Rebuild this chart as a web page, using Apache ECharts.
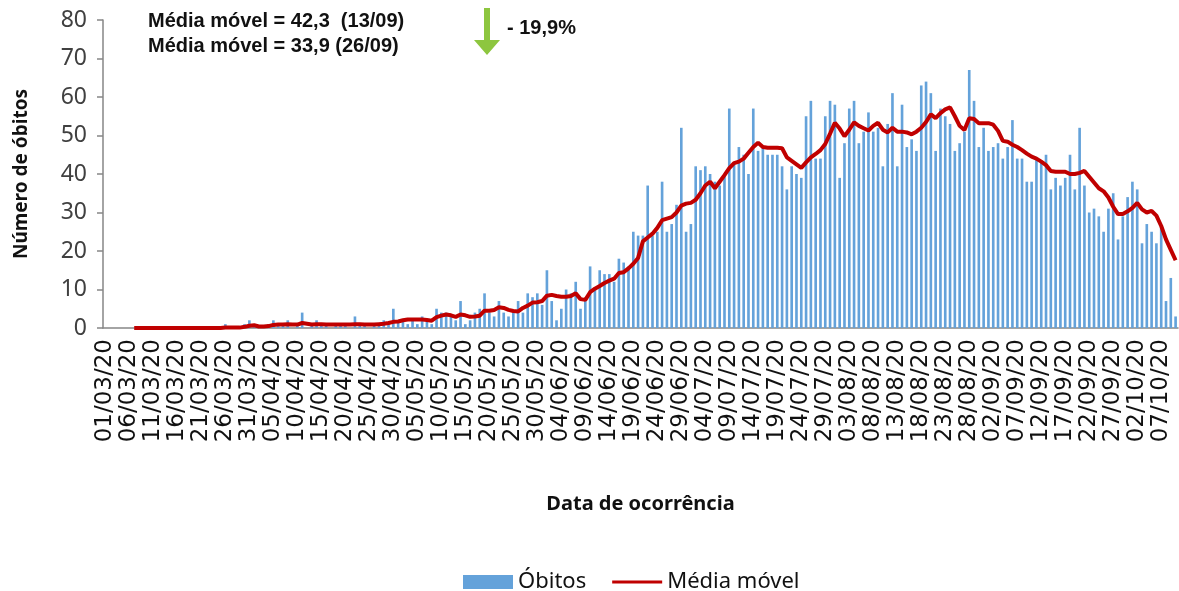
<!DOCTYPE html>
<html>
<head>
    <meta charset="utf-8">
    <title>Óbitos por data de ocorrência</title>
    <script src="https://cdn.jsdelivr.net/npm/echarts@6/dist/echarts.min.js"></script>
    <style>
        html, body { margin: 0; padding: 0; background: #fff; }
    </style>
</head>
<body>
    <div id="main" style="width: 1179px;height:591px;"></div>
    <script type="text/javascript">

    // óbitos diários, 01/03/20 em diante (um valor por dia)
    var obitos = [
        0, 0, 0, 0, 0, 0, 0, 0, 0, 0,
        0, 0, 0, 0, 0, 0, 0, 0, 0, 0,
        0, 0, 0, 0, 0, 1, 0, 0, 0, 1,
        2, 1, 0, 0, 1, 2, 1, 1, 2, 0,
        1, 4, 0, 1, 2, 1, 1, 0, 1, 1,
        1, 0, 3, 1, 1, 0, 1, 1, 2, 1,
        5, 2, 2, 1, 2, 1, 3, 2, 1, 5,
        4, 4, 3, 2, 7, 1, 2, 4, 5, 9,
        4, 3, 7, 4, 3, 4, 7, 4, 9, 8,
        9, 6, 15, 7, 2, 5, 10, 9, 12, 5,
        7, 16, 10, 15, 14, 14, 12, 18, 17, 16,
        25, 24, 24, 37, 24, 25, 38, 25, 27, 32,
        52, 25, 27, 42, 41, 42, 40, 38, 37, 40,
        57, 43, 47, 45, 40, 57, 46, 47, 45, 45,
        45, 42, 36, 42, 40, 39, 55, 59, 44, 44,
        55, 59, 58, 39, 48, 57, 59, 48, 51, 56,
        51, 52, 42, 53, 61, 42, 58, 47, 49, 46,
        63, 64, 61, 46, 57, 55, 53, 46, 48, 51,
        67, 59, 47, 52, 46, 47, 48, 44, 47, 54,
        44, 44, 38, 38, 44, 43, 45, 36, 39, 37,
        39, 45, 36, 52, 37, 30, 31, 29, 25, 31,
        35, 23, 29, 34, 38, 36, 22, 27, 25, 22,
        26, 7, 13, 3
    ];

    // média móvel (começa em 07/03)
    var mediaMovel = [
        null, null, null, null, null, null, 0, 0, 0, 0,
        0, 0, 0, 0, 0, 0, 0, 0, 0, 0,
        0, 0, 0, 0, 0, 0.1, 0.1, 0.1, 0.1, 0.3,
        0.6, 0.7, 0.4, 0.4, 0.5, 0.8, 0.9, 0.9, 1.0, 0.9,
        0.9, 1.3, 1.1, 0.9, 1.0, 1.0, 0.9, 0.9, 0.9, 0.9,
        0.9, 0.9, 1.0, 1.0, 0.9, 0.9, 0.9, 1.0, 1.1, 1.3,
        1.6, 1.7, 2.0, 2.2, 2.2, 2.2, 2.2, 2.1, 1.9, 2.8,
        3.2, 3.5, 3.3, 2.9, 3.5, 3.3, 2.9, 3.0, 3.2, 4.5,
        4.5, 4.7, 5.4, 5.2, 4.7, 4.4, 4.3, 5.2, 5.8, 6.6,
        6.7, 7.0, 8.4, 8.6, 8.3, 8.1, 8.1, 8.3, 9.0, 7.5,
        7.3, 9.3, 10.2, 10.9, 11.7, 12.3, 12.8, 14.3, 14.5, 15.5,
        16.7, 18.2, 22.5, 23.5, 24.5, 26.0, 28.0, 28.4, 28.8, 30.0,
        31.8, 32.3, 32.5, 33.3, 35.0, 37.0, 38.0, 36.3, 38.0, 39.7,
        41.5, 42.8, 43.2, 44.0, 45.5, 47.0, 48.1, 47.0, 46.8, 46.8,
        46.8, 46.7, 44.3, 43.4, 42.5, 41.6, 43.0, 44.3, 45.2, 46.2,
        47.8, 50.5, 53.3, 51.8, 49.8, 51.5, 53.4, 52.5, 51.9, 51.3,
        52.5, 53.3, 51.5, 50.8, 52.0, 51.0, 51.0, 50.8, 50.3, 51.0,
        52.0, 53.5, 55.5, 54.5, 55.8, 56.8, 57.3, 55.0, 52.5, 51.4,
        54.5, 54.3, 53.2, 53.2, 53.2, 52.8, 51.2, 48.6, 48.4, 47.6,
        47.0, 46.2, 45.3, 44.5, 44.0, 43.2, 42.3, 40.8, 40.6, 40.6,
        40.6, 40.0, 40.0, 40.3, 40.8, 39.3, 37.8, 36.3, 35.5, 33.9,
        31.5, 29.6, 29.6, 30.3, 31.2, 32.5, 30.8, 30.0, 30.4, 29.2,
        26.5, 23.0, 20.3, 17.6
    ];

    var notas = ['Média móvel = 42,3  (13/09)', 'Média móvel = 33,9 (26/09)'];
    var variacao = '- 19,9%';

    // -----datas (dd/mm/aa), um dia por barra
    var datas = [];
    var d0 = new Date(2020, 2, 1);
    for (var i = 0; i < obitos.length; i++) {
        var d = new Date(d0.getFullYear(), d0.getMonth(), d0.getDate() + i);
        var dd = ('0' + d.getDate()).slice(-2);
        var mm = ('0' + (d.getMonth() + 1)).slice(-2);
        datas.push(dd + '/' + mm + '/20');
    }

    var myChart = echarts.init(document.getElementById('main'));

    var option = {
        animation: false,
        backgroundColor: '#fff',
        textStyle: { fontFamily: 'Noto Sans' },
        legend: {
            left: 458,
            top: 566,
            itemWidth: 50,
            itemHeight: 14,
            itemGap: 26,
            textStyle: { fontSize: 22, color: '#111', fontFamily: 'Noto Sans' },
            data: [
                { name: 'Óbitos', icon: 'rect' },
                { name: 'Média móvel', icon: 'path://M0,0 L56,0 L56,3.5 L0,3.5 Z' }
            ]
        },
        grid: {
            left: 103,
            right: 1,
            top: 20,
            bottom: 263,
            containLabel: false
        },
        xAxis: [{
            type: 'category',
            data: datas,
            boundaryGap: true,
            name: 'Data de ocorrência',
            nameLocation: 'middle',
            nameGap: 166,
            nameTextStyle: { fontSize: 20, fontWeight: 'bold', color: '#111', fontFamily: 'Noto Sans' },
            axisLine: { lineStyle: { color: '#868686', width: 1.5 } },
            axisTick: { interval: 4, length: 6, lineStyle: { color: '#868686', width: 1.5 } },
            axisLabel: {
                interval: 4,
                rotate: 90,
                margin: 11,
                fontSize: 23,
                color: '#111',
                fontFamily: 'DejaVu Sans'
            }
        }],
        yAxis: [{
            type: 'value',
            min: 0,
            max: 80,
            interval: 10,
            name: 'Número de óbitos',
            nameLocation: 'middle',
            nameGap: 72,
            nameRotate: 90,
            nameTextStyle: { fontSize: 19, fontWeight: 'bold', color: '#111', fontFamily: 'Noto Sans' },
            splitLine: { show: false },
            axisLine: { show: true, lineStyle: { color: '#868686', width: 1.5 } },
            axisTick: { show: true, length: 6, lineStyle: { color: '#868686', width: 1.5 } },
            axisLabel: { fontSize: 23, color: '#404040', margin: 16, fontFamily: 'Noto Sans' }
        }],
        series: [{
                name: 'Óbitos',
                type: 'bar',
                data: obitos,
                barWidth: '55%',
                itemStyle: { color: '#64A2DA' }
            },
            {
                name: 'Média móvel',
                type: 'line',
                data: mediaMovel,
                symbol: 'none',
                smooth: false,
                lineStyle: { color: '#C00000', width: 4 },
                itemStyle: { color: '#C00000' }
            }
        ],
        graphic: [
            {
                type: 'text', left: 148, top: 11,
                style: { text: notas[0], font: 'bold 20px "Liberation Sans"', fill: '#111' }
            },
            {
                type: 'text', left: 148, top: 36,
                style: { text: notas[1], font: 'bold 20px "Liberation Sans"', fill: '#111' }
            },
            {
                type: 'polygon',
                shape: { points: [[484, 8], [490, 8], [490, 40], [500, 40], [487, 55], [474, 40], [484, 40]] },
                style: { fill: '#8DC63F' }
            },
            {
                type: 'text', left: 507, top: 18,
                style: { text: variacao, font: 'bold 20px "Liberation Sans"', fill: '#111' }
            }
        ]
    };

    myChart.setOption(option);
    </script>
</body>
</html>
